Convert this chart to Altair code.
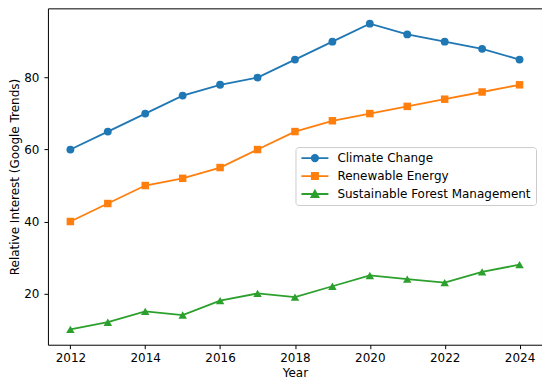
import altair as alt
import pandas as pd

# ---- data ----
years = list(range(2012, 2025))
climate_change = [60, 65, 70, 75, 78, 80, 85, 90, 95, 92, 90, 88, 85]
renewable_energy = [40, 45, 50, 52, 55, 60, 65, 68, 70, 72, 74, 76, 78]
sustainable_forest = [10, 12, 15, 14, 18, 20, 19, 22, 25, 24, 23, 26, 28]
series_names = ["Climate Change", "Renewable Energy", "Sustainable Forest Management"]
x_ticks = [2012, 2014, 2016, 2018, 2020, 2022, 2024]
y_ticks = [20, 40, 60, 80]

# ---- styles ----
colors = ["#1f77b4", "#ff7f0e", "#2ca02c"]
markers = ["circle", "square", "triangle-up"]
marker_sizes = [62, 56, 72]
# legend handles: a short line with the marker in the middle (unit coordinates)
legend_symbols = [
    "M-1,0H1M-0.24,0A0.24,0.24,0,1,1,0.24,0A0.24,0.24,0,1,1,-0.24,0Z",
    "M-1,0H1M-0.23,-0.23H0.23V0.23H-0.23Z",
    "M-1,0H1M0,-0.25L0.26,0.23H-0.26Z",
]

rows = []
for name, vals, mk, sz in zip(series_names,
                              [climate_change, renewable_energy, sustainable_forest],
                              markers, marker_sizes):
    for yr, v in zip(years, vals):
        rows.append({"year": yr, "value": v, "series": name, "marker": mk, "msize": sz})
df = pd.DataFrame(rows)

x = alt.X("year:Q",
          scale=alt.Scale(domain=[2011.4, 2024.6], nice=False, zero=False),
          axis=alt.Axis(values=x_ticks, format="d", title="Year", labelFlush=False,
                        labelPadding=4, titlePadding=4))
y = alt.Y("value:Q",
          scale=alt.Scale(domain=[5.75, 99.25], nice=False, zero=False),
          axis=alt.Axis(values=y_ticks, title="Relative Interest (Google Trends)",
                        labelPadding=5, titlePadding=2))
color_scale = alt.Scale(domain=series_names, range=colors)

legend_spec = alt.Legend(
    title=None, orient="none", legendX=248, legendY=139,
    symbolSize=729, symbolStrokeWidth=1.8, symbolOpacity=1,
    labelFont="DejaVu Sans", labelFontSize=12, labelColor="black", labelOffset=8,
    labelLimit=400, clipHeight=12,
    padding=5, fillColor="rgba(255,255,255,0.8)", strokeColor="#cccccc",
    cornerRadius=3, rowPadding=6,
)

legend_layer = alt.Chart(df).mark_point(filled=True, opacity=0).encode(
    x=x, y=y,
    color=alt.Color("series:N", scale=color_scale, legend=legend_spec),
    stroke=alt.Stroke("series:N", scale=color_scale, legend=legend_spec),
    shape=alt.Shape("series:N", scale=alt.Scale(domain=series_names, range=legend_symbols),
                    legend=legend_spec),
)
lines = alt.Chart(df).mark_line(strokeWidth=1.8).encode(
    x=x, y=y, color=alt.Color("series:N", scale=color_scale, legend=None)
)
points = alt.Chart(df).mark_point(filled=True, opacity=1).encode(
    x=x, y=y,
    color=alt.Color("series:N", scale=color_scale, legend=None),
    shape=alt.Shape("marker:N", scale=None, legend=None),
    size=alt.Size("msize:Q", scale=None, legend=None),
)

chart = (
    alt.layer(legend_layer, lines, points)
    .properties(width=495, height=337,
                autosize=alt.AutoSizeParams(type="none"),
                padding={"left": 40, "top": 0, "right": 0, "bottom": 39})
    .configure(font="DejaVu Sans")
    .configure_view(stroke="black", strokeWidth=1)
    .configure_axis(domain=False, grid=False, labelFont="DejaVu Sans", labelFontSize=12,
                    labelColor="black", titleFont="DejaVu Sans", titleFontSize=12,
                    titleFontWeight="normal", titleColor="black", tickColor="black",
                    tickSize=4, tickWidth=1)
)

chart.save("out.html", embed_options={"renderer": "svg", "actions": False})
